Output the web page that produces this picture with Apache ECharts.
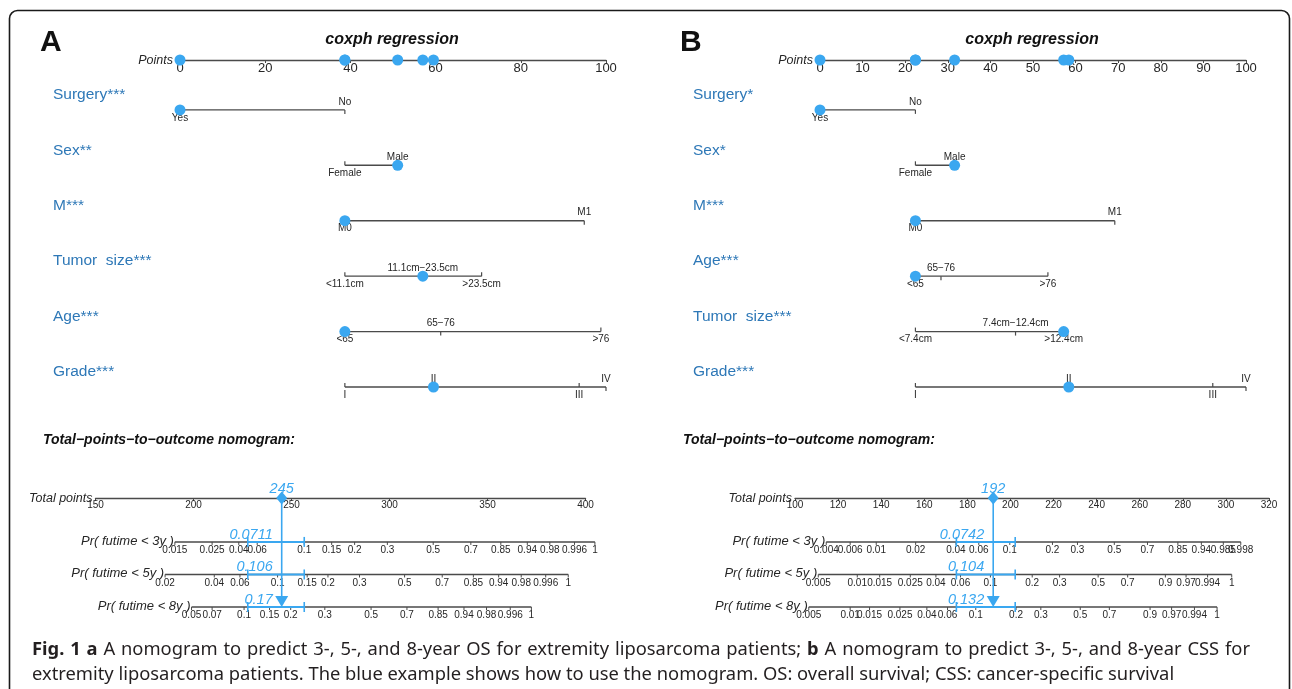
<!DOCTYPE html>
<html>
<head>
<meta charset="utf-8">
<script src="https://cdn.jsdelivr.net/npm/echarts@6/dist/echarts.min.js"></script>
<style>
  html, body { margin: 0; padding: 0; background: #fff; }
  #chart { width: 1292px; height: 689px; }
</style>
</head>
<body>
<div id="chart"></div>
<script>
// ---- panel A : overall survival ----
const varNamesA = ['Surgery***', 'Sex**', 'M***', 'Tumor  size***', 'Age***', 'Grade***']
const levelsA = [
  ['Yes', 'No'],
  ['Female', 'Male'],
  ['M0', 'M1'],
  ['<11.1cm', '11.1cm\u221223.5cm', '>23.5cm'],
  ['<65', '65\u221276', '>76'],
  ['I', 'II', 'III', 'IV']
]
const levelPointsA = [
  [0, 38.7],
  [38.7, 51.1],
  [38.7, 94.9],
  [38.7, 57.0, 70.8],
  [38.7, 61.2, 98.8],
  [38.7, 59.5, 93.7, 100]
]
// level picked for the blue example patient
const chosenA = [0, 1, 0, 1, 0, 1]
const totalTicksA = [150, 200, 250, 300, 350, 400]
const totalA = 245
const bandA = [227.7, 256.5]
const probValuesA = ['0.0711', '0.106', '0.17']
const probLabA3 = ['0.015', '0.025', '0.04', '0.06', '0.1', '0.15', '0.2', '0.3', '0.5', '0.7', '0.85', '0.94', '0.98', '0.996', '1']
const probPosA3 = [190.5, 209.5, 223.1, 232.5, 256.5, 270.5, 282.2, 298.9, 322.3, 341.5, 356.8, 370.3, 381.8, 394.4, 404.8]
const probLabA5 = ['0.02', '0.04', '0.06', '0.1', '0.15', '0.2', '0.3', '0.5', '0.7', '0.85', '0.94', '0.98', '0.996', '1']
const probPosA5 = [185.5, 210.6, 223.7, 242.9, 258.0, 268.6, 284.7, 307.7, 326.9, 342.8, 355.7, 367.2, 379.7, 391.2]
const probLabA8 = ['0.05', '0.07', '0.1', '0.15', '0.2', '0.3', '0.5', '0.7', '0.85', '0.94', '0.98', '0.996', '1']
const probPosA8 = [199.0, 209.5, 225.8, 238.8, 249.6, 267.0, 290.6, 308.9, 324.8, 338.0, 349.5, 361.6, 372.4]

// ---- panel B : cancer-specific survival ----
const varNamesB = ['Surgery*', 'Sex*', 'M***', 'Age***', 'Tumor  size***', 'Grade***']
const levelsB = [
  ['Yes', 'No'],
  ['Female', 'Male'],
  ['M0', 'M1'],
  ['<65', '65\u221276', '>76'],
  ['<7.4cm', '7.4cm\u221212.4cm', '>12.4cm'],
  ['I', 'II', 'III', 'IV']
]
const levelPointsB = [
  [0, 22.4],
  [22.4, 31.6],
  [22.4, 69.2],
  [22.4, 28.4, 53.5],
  [22.4, 45.9, 57.2],
  [22.4, 58.4, 92.2, 100]
]
const chosenB = [0, 1, 0, 0, 2, 1]
const totalTicksB = [100, 120, 140, 160, 180, 200, 220, 240, 260, 280, 300, 320]
const totalB = 192
const bandB = [174.9, 202.2]
const probValuesB = ['0.0742', '0.104', '0.132']
const probLabB3 = ['0.004', '0.006', '0.01', '0.02', '0.04', '0.06', '0.1', '0.2', '0.3', '0.5', '0.7', '0.85', '0.94', '0.985', '0.998']
const probPosB3 = [114.5, 125.6, 137.7, 156.0, 174.7, 185.3, 199.7, 219.5, 231.1, 248.2, 263.6, 277.7, 288.6, 298.8, 306.9]
const probLabB5 = ['0.005', '0.01', '0.015', '0.025', '0.04', '0.06', '0.1', '0.2', '0.3', '0.5', '0.7', '0.9', '0.97', '0.994', '1']
const probPosB5 = [110.8, 128.9, 139.3, 153.5, 165.4, 176.8, 190.7, 210.1, 222.8, 240.7, 254.4, 271.9, 281.5, 291.5, 302.7]
const probLabB8 = ['0.005', '0.01', '0.015', '0.025', '0.04', '0.06', '0.1', '0.2', '0.3', '0.5', '0.7', '0.9', '0.97', '0.994', '1']
const probPosB8 = [106.4, 125.6, 134.6, 148.7, 161.2, 170.8, 183.9, 202.6, 214.1, 232.4, 245.9, 264.8, 274.8, 285.4, 295.9]

const probNames = ['Pr( futime < 3y )', 'Pr( futime < 5y )', 'Pr( futime < 8y )']

const FONT = '"Liberation Sans", Arial, sans-serif'
const BLUE = '#3aa7f0'
const NAVY = '#2e78b7'
const INK = '#262626'
const GREY = '#4a4a4a'

// row positions on the hidden y axes
const probRowY = [1.35, 2.35, 3.35]

function buildPanel (p, gi) {
  const grids = [
    { left: p.left, top: 60, width: 426, height: 327 },
    { left: p.botLeft, top: 498, width: p.botWidth, height: 109 }
  ]
  const axisCommon = {
    type: 'value',
    position: 'top',
    axisLine: { show: true, onZero: false, lineStyle: { color: GREY, width: 1.4 } },
    axisTick: { show: true, inside: true, length: 3, lineStyle: { color: GREY } },
    splitLine: { show: false }
  }
  const tt = p.totalTicks
  const xAxes = [
    Object.assign({}, axisCommon, {
      gridIndex: gi, min: 0, max: 100, interval: p.ptsStep,
      axisLabel: { inside: true, margin: 2, fontSize: 13, color: INK, fontFamily: FONT }
    }),
    Object.assign({}, axisCommon, {
      gridIndex: gi + 1, min: tt[0], max: tt[tt.length - 1], interval: tt[1] - tt[0],
      axisLabel: { inside: true, margin: 2, fontSize: 10, color: INK, fontFamily: FONT }
    })
  ]
  const yAxes = [
    { gridIndex: gi, type: 'value', inverse: true, min: 0.1, max: 6, show: false },
    { gridIndex: gi + 1, type: 'value', inverse: true, min: 0, max: 3.35, show: false }
  ]

  const axisName = (text, pt, gap) => ({
    type: 'text',
    style: {
      text: text, x: pt[0] - gap, y: pt[1] + 1, align: 'right', verticalAlign: 'middle',
      fontSize: 12.5, fontStyle: 'italic', fontFamily: FONT, fill: INK
    }
  })

  // factor rows
  const factorSeries = {
    type: 'custom',
    xAxisIndex: gi,
    yAxisIndex: gi,
    silent: true,
    data: p.names.map((n, i) => [i]),
    renderItem (params, api) {
      const i = params.dataIndex
      const row = i + 1
      const pts = p.levelPoints[i]
      const lv = p.levels[i]
      const y = api.coord([0, row])[1]
      const xs = pts.map(v => api.coord([v, row])[0])
      const kids = [{
        type: 'line',
        shape: { x1: xs[0], y1: y, x2: xs[xs.length - 1], y2: y },
        style: { stroke: GREY, lineWidth: 1.4 }
      }]
      xs.forEach((x, k) => {
        const above = k % 2 === 1
        kids.push({
          type: 'line',
          shape: { x1: x, y1: y, x2: x, y2: above ? y + 4 : y - 4 },
          style: { stroke: GREY, lineWidth: 1.2 }
        })
        kids.push({
          type: 'text',
          style: {
            text: lv[k], x: x, y: above ? y - 8 : y + 8,
            align: 'center', verticalAlign: 'middle',
            fontSize: 10, fontFamily: FONT, fill: INK
          }
        })
      })
      kids.push({
        type: 'text',
        style: {
          text: p.names[i], x: p.nameX, y: y - 15,
          align: 'left', verticalAlign: 'middle',
          fontSize: 15.5, fontFamily: FONT, fill: NAVY
        }
      })
      if (i === 0) kids.push(axisName('Points', api.coord([0, 0.1]), 7))
      return { type: 'group', children: kids }
    }
  }

  // example patient dots
  const dots = []
  p.levelPoints.forEach((pts, i) => {
    const v = pts[p.chosen[i]]
    dots.push([v, i + 1])
    dots.push([v, 0.1])
  })
  const dotSeries = {
    type: 'scatter',
    xAxisIndex: gi,
    yAxisIndex: gi,
    silent: true,
    symbolSize: 11,
    itemStyle: { color: BLUE, opacity: 1 },
    data: dots,
    z: 5
  }

  // probability scales
  const probSeries = {
    type: 'custom',
    xAxisIndex: gi + 1,
    yAxisIndex: gi + 1,
    silent: true,
    data: [[0], [1], [2]],
    renderItem (params, api) {
      const i = params.dataIndex
      const pos = p.probPos[i]
      const lab = p.probLab[i]
      const y = api.coord([pos[0], probRowY[i]])[1]
      const xs = pos.map(v => api.coord([v, probRowY[i]])[0])
      const kids = [{
        type: 'line',
        shape: { x1: xs[0], y1: y, x2: xs[xs.length - 1], y2: y },
        style: { stroke: GREY, lineWidth: 1.4 }
      }]
      xs.forEach((x, k) => {
        kids.push({
          type: 'line',
          shape: { x1: x, y1: y, x2: x, y2: y + 3 },
          style: { stroke: GREY, lineWidth: 1 }
        })
        kids.push({
          type: 'text',
          style: {
            text: lab[k], x: x, y: y + 8.5, align: 'center', verticalAlign: 'middle',
            fontSize: 10, fontFamily: FONT, fill: INK
          }
        })
      })
      kids.push({
        type: 'text',
        style: {
          text: probNames[i], x: xs[0] - 1, y: y - 1, align: 'right', verticalAlign: 'middle',
          fontSize: 13, fontStyle: 'italic', fontFamily: FONT, fill: INK
        }
      })
      if (i === 0) kids.push(axisName('Total points', api.coord([tt[0], 0]), 3))
      return { type: 'group', children: kids }
    }
  }

  // blue worked example on the outcome scales
  const exampleSeries = {
    type: 'custom',
    xAxisIndex: gi + 1,
    yAxisIndex: gi + 1,
    silent: true,
    z: 6,
    data: [[p.total]],
    renderItem (params, api) {
      const top = api.coord([p.total, 0])
      const bot = api.coord([p.total, probRowY[2]])
      const kids = [{
        type: 'line',
        shape: { x1: top[0], y1: top[1], x2: bot[0], y2: bot[1] - 8 },
        style: { stroke: BLUE, lineWidth: 1.6 }
      }, {
        type: 'text',
        style: {
          text: String(p.total), x: top[0], y: top[1] - 9, align: 'center', verticalAlign: 'middle',
          fontSize: 14.5, fontStyle: 'italic', fontFamily: FONT, fill: BLUE
        }
      }]
      probRowY.forEach((ry, i) => {
        const a = api.coord([p.band[0], ry])
        const b = api.coord([p.band[1], ry])
        kids.push({ type: 'line', shape: { x1: a[0], y1: a[1], x2: b[0], y2: b[1] }, style: { stroke: BLUE, lineWidth: 2 } })
        kids.push({ type: 'line', shape: { x1: a[0], y1: a[1] - 5, x2: a[0], y2: a[1] + 5 }, style: { stroke: BLUE, lineWidth: 1.6 } })
        kids.push({ type: 'line', shape: { x1: b[0], y1: b[1] - 5, x2: b[0], y2: b[1] + 5 }, style: { stroke: BLUE, lineWidth: 1.6 } })
        kids.push({
          type: 'text',
          style: {
            text: p.probValues[i], x: top[0] - 9, y: a[1] - 7, align: 'right', verticalAlign: 'middle',
            fontSize: 14.5, fontStyle: 'italic', fontFamily: FONT, fill: BLUE
          }
        })
      })
      return { type: 'group', children: kids }
    }
  }
  const markerSeries = [{
    type: 'scatter',
    xAxisIndex: gi + 1,
    yAxisIndex: gi + 1,
    silent: true,
    symbol: 'diamond',
    symbolSize: [11, 13],
    itemStyle: { color: BLUE, opacity: 1 },
    data: [[p.total, 0]],
    z: 7
  }, {
    type: 'scatter',
    xAxisIndex: gi + 1,
    yAxisIndex: gi + 1,
    silent: true,
    symbol: 'triangle',
    symbolRotate: 180,
    symbolSize: [13, 11],
    symbolOffset: [0, -5.5],
    itemStyle: { color: BLUE, opacity: 1 },
    data: [[p.total, probRowY[2]]],
    z: 7
  }]

  return {
    grids, xAxes, yAxes,
    series: [factorSeries, dotSeries, probSeries, exampleSeries].concat(markerSeries)
  }
}

const panelA = buildPanel({
  left: 180, botLeft: 95.5, botWidth: 490, nameX: 53, ptsStep: 20,
  names: varNamesA, levels: levelsA, levelPoints: levelPointsA, chosen: chosenA,
  totalTicks: totalTicksA, total: totalA, band: bandA, probValues: probValuesA,
  probLab: [probLabA3, probLabA5, probLabA8], probPos: [probPosA3, probPosA5, probPosA8]
}, 0)
const panelB = buildPanel({
  left: 820, botLeft: 795, botWidth: 474, nameX: 693, ptsStep: 10,
  names: varNamesB, levels: levelsB, levelPoints: levelPointsB, chosen: chosenB,
  totalTicks: totalTicksB, total: totalB, band: bandB, probValues: probValuesB,
  probLab: [probLabB3, probLabB5, probLabB8], probPos: [probPosB3, probPosB5, probPosB8]
}, 2)

const textEl = (text, x, y, style) => ({
  type: 'text', x: x, y: y, silent: true,
  style: Object.assign({ text: text, fontFamily: FONT, fill: '#111', verticalAlign: 'middle' }, style)
})

// caption: first line is justified in the source, so words are spread to the full width
const CAP_FONT = '"Noto Sans", sans-serif'
const CAP_SIZE = 18.35
const capLine1 = '*Fig.* *1* *a* A nomogram to predict 3-, 5-, and 8-year OS for extremity liposarcoma patients; *b* A nomogram to predict 3-, 5-, and 8-year CSS for'
const capLine2 = 'extremity liposarcoma patients. The blue example shows how to use the nomogram. OS: overall survival; CSS: cancer-specific survival'

function justifiedLine (line, x0, x1, y) {
  const ctx = document.createElement('canvas').getContext('2d')
  const words = line.split(' ').map(w => {
    const bold = w.startsWith('*') && w.endsWith('*')
    const text = bold ? w.slice(1, -1) : w
    ctx.font = (bold ? 'bold ' : '') + CAP_SIZE + 'px ' + CAP_FONT
    return { text, bold, w: ctx.measureText(text).width }
  })
  const used = words.reduce((s, w) => s + w.w, 0)
  const gap = (x1 - x0 - used) / (words.length - 1)
  let x = x0
  return words.map(w => {
    const el = {
      type: 'text', x: x, y: y, silent: true,
      style: {
        text: w.text, verticalAlign: 'middle', fontFamily: CAP_FONT, fontSize: CAP_SIZE,
        fontWeight: w.bold ? 'bold' : 'normal', fill: '#231f20'
      }
    }
    x += w.w + gap
    return el
  })
}

const chart = echarts.init(document.getElementById('chart'), null, { renderer: 'canvas' })
chart.setOption({
  animation: false,
  backgroundColor: '#fff',
  grid: panelA.grids.concat(panelB.grids),
  xAxis: panelA.xAxes.concat(panelB.xAxes),
  yAxis: panelA.yAxes.concat(panelB.yAxes),
  series: panelA.series.concat(panelB.series),
  graphic: [
    {
      type: 'rect', silent: true,
      shape: { x: 9.5, y: 10.5, width: 1280, height: 720, r: 8 },
      style: { fill: 'none', stroke: '#1a1a1a', lineWidth: 1.6 }
    },
    textEl('A', 40, 43, { fontSize: 30, fontWeight: 'bold' }),
    textEl('B', 680, 43, { fontSize: 30, fontWeight: 'bold' }),
    textEl('coxph regression', 392, 40, { fontSize: 16, fontWeight: 'bold', fontStyle: 'italic', align: 'center' }),
    textEl('coxph regression', 1032, 40, { fontSize: 16, fontWeight: 'bold', fontStyle: 'italic', align: 'center' }),
    textEl('Total\u2212points\u2212to\u2212outcome nomogram:', 43, 440, { fontSize: 14, fontWeight: 'bold', fontStyle: 'italic' }),
    textEl('Total\u2212points\u2212to\u2212outcome nomogram:', 683, 440, { fontSize: 14, fontWeight: 'bold', fontStyle: 'italic' }),
    {
      type: 'text', x: 32, y: 675, silent: true,
      style: { text: capLine2, verticalAlign: 'middle', fontFamily: CAP_FONT, fontSize: CAP_SIZE, fill: '#231f20' }
    }
  ].concat(justifiedLine(capLine1, 32, 1250, 650))
})
</script>
</body>
</html>
